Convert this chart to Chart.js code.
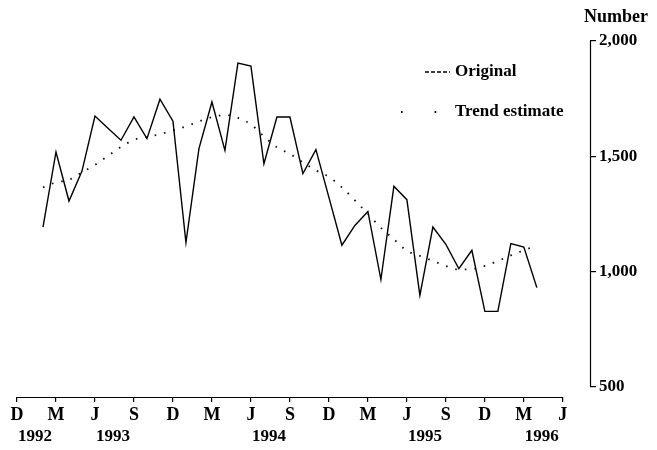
<!DOCTYPE html>
<html>
<head>
<meta charset="utf-8">
<script src="https://cdn.jsdelivr.net/npm/chart.js"></script>
<style>
  html, body { margin: 0; padding: 0; background: #fff; }
</style>
</head>
<body>
<canvas id="chart" width="657" height="450"></canvas>
<script>
// months counted from December 1992 (= 0)
const monthIndex = [2, 3, 4, 5, 6, 7, 8, 9, 10, 11, 12, 13, 14, 15, 16, 17, 18, 19, 20,
  21, 22, 23, 24, 25, 26, 27, 28, 29, 30, 31, 32, 33, 34, 35, 36, 37, 38, 39, 40];

const original = [1192, 1518, 1305, 1435, 1674, 1621, 1569, 1670, 1576, 1747, 1652, 1125,
  1533, 1735, 1525, 1904, 1891, 1467, 1670, 1670, 1424, 1528, 1321, 1113, 1199, 1260,
  964, 1369, 1311, 895, 1192, 1117, 1011, 1091, 826, 826, 1120, 1105, 929];

const trend = [1364, 1386, 1397, 1430, 1462, 1501, 1540, 1571, 1584, 1595, 1612, 1629,
  1651, 1669, 1679, 1666, 1638, 1586, 1538, 1510, 1473, 1438, 1410, 1364, 1308, 1249,
  1189, 1139, 1089, 1067, 1045, 1023, 1008, 1010, 1023, 1045, 1069, 1091, 1113];

const tickMonths = [0, 3, 6, 9, 12, 15, 18, 21, 24, 27, 30, 33, 36, 39, 42];
const tickLetters = ["D", "M", "J", "S", "D", "M", "J", "S", "D", "M", "J", "S", "D", "M", "J"];
const yearMonths = [0, 6, 18, 30, 39];
const yearLabels = ["1992", "1993", "1994", "1995", "1996"];
const valueTicks = [500, 1000, 1500, 2000];

const FONT = "'Liberation Serif', 'Times New Roman', serif";
Chart.defaults.font.family = FONT;
Chart.defaults.color = "#000";

function pairs(xs, ys) {
  return xs.map((m, i) => ({ x: m, y: ys[i] }));
}

// axis lines, years, unit label and legend
const extras = {
  id: "extras",
  afterDraw(chart) {
    const { ctx, chartArea, scales } = chart;
    const x = scales.x, y = scales.y;
    ctx.save();
    ctx.strokeStyle = "#000";
    ctx.lineWidth = 1.2;
    // bottom axis only as far as the last month tick
    ctx.beginPath();
    ctx.moveTo(x.getPixelForValue(tickMonths[0]), chartArea.bottom + 0.5);
    ctx.lineTo(x.getPixelForValue(tickMonths[tickMonths.length - 1]), chartArea.bottom + 0.5);
    ctx.stroke();
    // value axis from 500 to 2,000
    ctx.beginPath();
    ctx.moveTo(chartArea.right + 0.5, y.getPixelForValue(valueTicks[0]));
    ctx.lineTo(chartArea.right + 0.5, y.getPixelForValue(valueTicks[valueTicks.length - 1]));
    ctx.stroke();

    ctx.fillStyle = "#000";
    ctx.font = "bold 17px " + FONT;
    ctx.textBaseline = "middle";
    ctx.textAlign = "left";
    yearMonths.forEach((m, i) => {
      ctx.fillText(yearLabels[i], x.getPixelForValue(m) + 1, 437);
    });

    // legend
    ctx.fillText("Original", 455, 72);
    ctx.fillText("Trend estimate", 455, 112);
    ctx.font = "bold 18px " + FONT;
    ctx.fillText("Number", 584, 17);
    ctx.lineWidth = 1.4;
    ctx.setLineDash([4, 2]);
    ctx.beginPath();
    ctx.moveTo(425, 72);
    ctx.lineTo(450, 72);
    ctx.stroke();
    ctx.setLineDash([1.6, 32]);
    ctx.lineWidth = 1.8;
    ctx.beginPath();
    ctx.moveTo(401, 112);
    ctx.lineTo(440, 112);
    ctx.stroke();
    ctx.restore();
  }
};

new Chart(document.getElementById("chart"), {
  type: "line",
  data: {
    datasets: [
      {
        label: "Original",
        data: pairs(monthIndex, original),
        borderColor: "#000",
        borderWidth: 1.4,
        pointRadius: 0,
        tension: 0
      },
      {
        label: "Trend estimate",
        data: pairs(monthIndex, trend),
        borderColor: "#111",
        borderWidth: 1.8,
        borderDash: [1.6, 8],
        pointRadius: 0,
        cubicInterpolationMode: "monotone"
      }
    ]
  },
  options: {
    responsive: false,
    animation: false,
    devicePixelRatio: 1,
    layout: { padding: { left: 17, top: 41, right: 0, bottom: 0 } },
    plugins: { legend: { display: false }, tooltip: { enabled: false } },
    scales: {
      x: {
        type: "linear",
        min: 0,
        max: 44.09,
        afterBuildTicks: (s) => { s.ticks = tickMonths.map((v) => ({ value: v })); },
        afterFit: (s) => { s.height = 53; },
        border: { display: false },
        grid: { drawOnChartArea: false, tickLength: 5, color: "#000", lineWidth: 1.2 },
        ticks: {
          autoSkip: false,
          maxRotation: 0,
          padding: 3,
          color: "#000",
          font: { size: 18, weight: "bold" },
          callback: (v) => tickLetters[tickMonths.indexOf(v)]
        }
      },
      y: {
        position: "right",
        min: 454,
        max: 2000,
        afterBuildTicks: (s) => { s.ticks = valueTicks.map((v) => ({ value: v })); },
        afterFit: (s) => { s.width = 67; },
        border: { display: false },
        grid: { drawOnChartArea: false, tickLength: 6, color: "#000", lineWidth: 1.2 },
        ticks: {
          padding: 3,
          color: "#000",
          font: { size: 17, weight: "bold" },
          callback: (v) => v.toLocaleString("en-US")
        }
      }
    }
  },
  plugins: [extras]
});
</script>
</body>
</html>
